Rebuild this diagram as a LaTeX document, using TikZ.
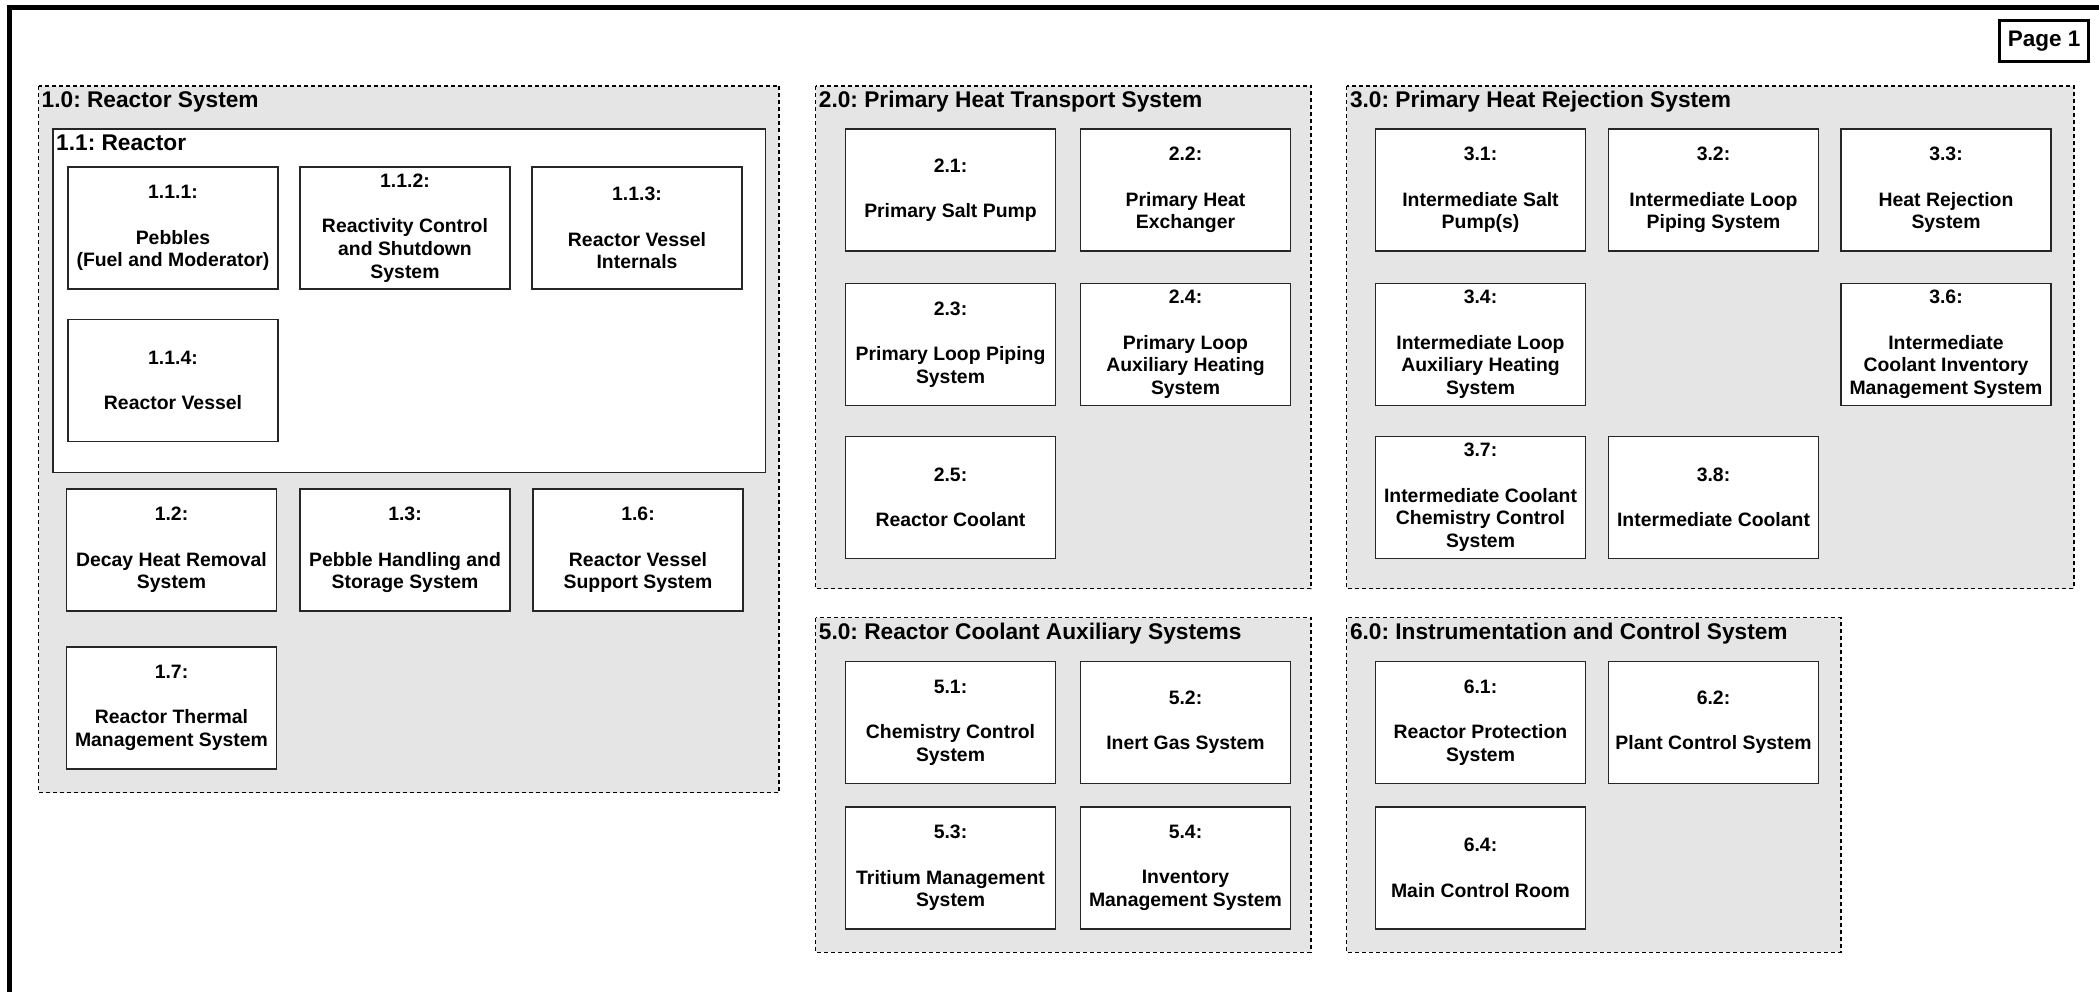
\documentclass[tikz,border=0pt]{standalone}
\usepackage{fontspec}
\setmainfont{Liberation Sans}
\frenchspacing
\begin{document}
\begin{tikzpicture}[x=1pt,y=-1pt,
    subsys/.style={draw=black!85, line width=1.3pt, fill=white, minimum width=210pt, minimum height=122pt,
      align=center, inner sep=0pt, font=\fontsize{19.4}{22.7}\selectfont\bfseries},
    sysgroup/.style={draw, dash pattern=on 4pt off 3pt, line width=1.2pt, fill=black!10},
    grptitle/.style={anchor=base west, inner sep=0pt, font=\fontsize{22.7}{27}\selectfont\bfseries}]
  \useasboundingbox (0,0) rectangle (2099,992);
  \draw[line width=5pt] (9.5,1000) -- (9.5,7.5) -- (2110,7.5);
  \node[draw, line width=3.2pt, inner sep=0pt, minimum width=89pt, minimum height=41pt,
    font=\fontsize{22.5}{26}\selectfont\bfseries] (page) at (2044,41) {Page 1};

  % 1.0 reactor system
  \draw[sysgroup] (38.5,86) rectangle (779,792.5);
  \node[grptitle] (t10) at (41.5,108) {1.0: Reactor System};
  \draw[draw=black!85, line width=1.3pt, fill=white] (53,129) rectangle (765.3,472.3);
  \node[grptitle] (t11) at (56,150.5) {1.1: Reactor};
  \node[subsys] (s111) at (173,228) {1.1.1:\\[\baselineskip]Pebbles\\(Fuel and Moderator)};
  \node[subsys] (s112) at (405,228) {1.1.2:\\[\baselineskip]Reactivity Control\\and Shutdown\\System};
  \node[subsys] (s113) at (637,228) {1.1.3:\\[\baselineskip]Reactor Vessel\\Internals};
  \node[subsys] (s114) at (173,380.5) {1.1.4:\\[\baselineskip]Reactor Vessel};
  \node[subsys] (s12) at (171.5,550) {1.2:\\[\baselineskip]Decay Heat Removal\\System};
  \node[subsys] (s13) at (405,550) {1.3:\\[\baselineskip]Pebble Handling and\\Storage System};
  \node[subsys] (s16) at (638,550) {1.6:\\[\baselineskip]Reactor Vessel\\Support System};
  \node[subsys] (s17) at (171.5,708) {1.7:\\[\baselineskip]Reactor Thermal\\Management System};

  % 2.0 primary heat transport
  \draw[sysgroup] (815.7,86) rectangle (1311,588.6);
  \node[grptitle] (t20) at (818.7,108) {2.0: Primary Heat Transport System};
  \node[subsys] (s21) at (950.5,190) {2.1:\\[\baselineskip]Primary Salt Pump};
  \node[subsys] (s22) at (1185.5,190) {2.2:\\[\baselineskip]Primary Heat\\Exchanger};
  \node[subsys] (s23) at (950.5,344.5) {2.3:\\[\baselineskip]Primary Loop Piping\\System};
  \node[subsys] (s24) at (1185.5,344.5) {2.4:\\[\baselineskip]Primary Loop\\Auxiliary Heating\\System};
  \node[subsys] (s25) at (950.5,497.5) {2.5:\\[\baselineskip]Reactor Coolant};

  % 3.0 primary heat rejection
  \draw[sysgroup] (1346.8,86) rectangle (2074,588.6);
  \node[grptitle] (t30) at (1349.8,108) {3.0: Primary Heat Rejection System};
  \node[subsys] (s31) at (1480.5,190) {3.1:\\[\baselineskip]Intermediate Salt\\Pump(s)};
  \node[subsys] (s32) at (1713.5,190) {3.2:\\[\baselineskip]Intermediate Loop\\Piping System};
  \node[subsys] (s33) at (1946,190) {3.3:\\[\baselineskip]Heat Rejection\\System};
  \node[subsys] (s34) at (1480.5,344.5) {3.4:\\[\baselineskip]Intermediate Loop\\Auxiliary Heating\\System};
  \node[subsys] (s36) at (1946,344.5) {3.6:\\[\baselineskip]Intermediate\\Coolant Inventory\\Management System};
  \node[subsys] (s37) at (1480.5,497.5) {3.7:\\[\baselineskip]Intermediate Coolant\\Chemistry Control\\System};
  \node[subsys] (s38) at (1713.5,497.5) {3.8:\\[\baselineskip]Intermediate Coolant};

  % 5.0 reactor coolant auxiliary
  \draw[sysgroup] (815.7,617.7) rectangle (1311,952.3);
  \node[grptitle] (t50) at (818.7,639.7) {5.0: Reactor Coolant Auxiliary Systems};
  \node[subsys] (s51) at (950.5,722.5) {5.1:\\[\baselineskip]Chemistry Control\\System};
  \node[subsys] (s52) at (1185.5,722.5) {5.2:\\[\baselineskip]Inert Gas System};
  \node[subsys] (s53) at (950.5,868) {5.3:\\[\baselineskip]Tritium Management\\System};
  \node[subsys] (s54) at (1185.5,868) {5.4:\\[\baselineskip]Inventory\\Management System};

  % 6.0 instrumentation and control
  \draw[sysgroup] (1346.8,617.7) rectangle (1841,952.3);
  \node[grptitle] (t60) at (1349.8,639.7) {6.0: Instrumentation and Control System};
  \node[subsys] (s61) at (1480.5,722.5) {6.1:\\[\baselineskip]Reactor Protection\\System};
  \node[subsys] (s62) at (1713.5,722.5) {6.2:\\[\baselineskip]Plant Control System};
  \node[subsys] (s64) at (1480.5,868) {6.4:\\[\baselineskip]Main Control Room};
\end{tikzpicture}
\end{document}
